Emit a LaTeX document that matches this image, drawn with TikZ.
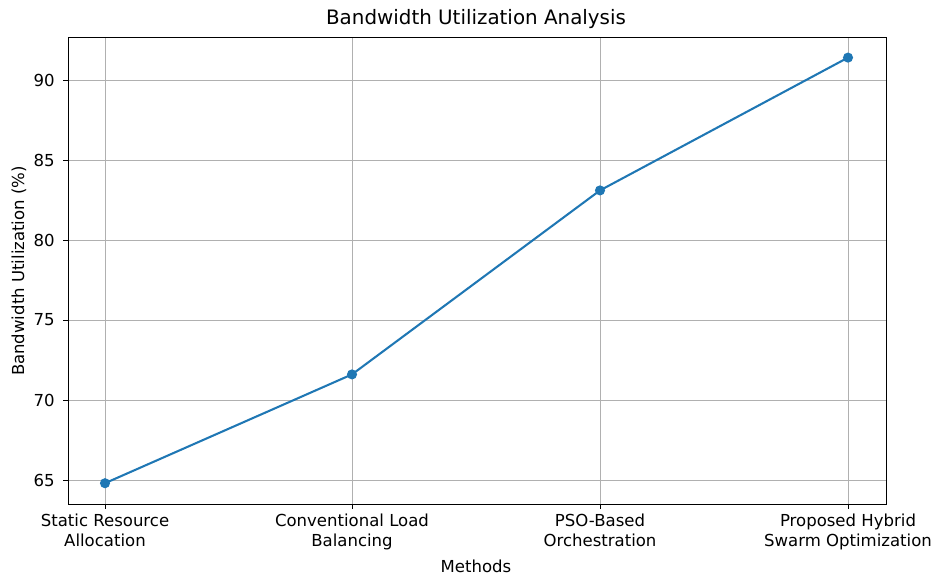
\documentclass[tikz,border=0pt]{standalone}
\usepackage{fontspec}
\setmainfont{DejaVu Sans}
\usepackage{xcolor}
\usetikzlibrary{positioning}
\definecolor{mplblue}{HTML}{1F77B4}
\definecolor{mplgrid}{HTML}{B0B0B0}
\newcommand{\ypx}[1]{480-(#1-65)*16}

\begin{document}
\begin{tikzpicture}[x=0.75pt,y=-0.75pt,
  gridline/.style={mplgrid,line width=0.7pt},
  spine/.style={black,line width=0.7pt},
  datapt/.style={circle,fill=mplblue,inner sep=0pt,minimum size=7.6pt},
  ticklab/.style={inner sep=0pt,font=\fontsize{12.4}{14.4}\selectfont,align=center}]
  \useasboundingbox (0,0) rectangle (933,576);
  % grid
  \foreach \xp in {105,352,600,848}
    \draw[gridline] (\xp,37) -- (\xp,504);
  \foreach \v in {65,70,...,90}
    \draw[gridline] (68,{\ypx{\v}}) -- (886,{\ypx{\v}});
  % data
  \node[datapt] (p1) at (105,{\ypx{64.8}}) {};
  \node[datapt] (p2) at (352,{\ypx{71.6}}) {};
  \node[datapt] (p3) at (600,{\ypx{83.1}}) {};
  \node[datapt] (p4) at (848,{\ypx{91.4}}) {};
  \draw[mplblue,line width=1.55pt,line join=round]
    (p1.center) -- (p2.center) -- (p3.center) -- (p4.center);
  % axes
  \draw[spine] (68,37) rectangle (886,504);
  \foreach \v in {65,70,...,90} {
    \draw[spine] (63,{\ypx{\v}}) -- (68,{\ypx{\v}});
    \node[ticklab,anchor=east] at (55,{\ypx{\v}}) {\v};
  }
  \foreach \xp/\lab in {105/{Static Resource\\Allocation},
      352/{Conventional Load\\Balancing},
      600/{PSO-Based\\Orchestration},
      848/{Proposed Hybrid\\Swarm Optimization}} {
    \draw[spine] (\xp,504) -- (\xp,509);
    \node[ticklab,anchor=north] at (\xp,514) {\lab};
  }
  % labels
  \node[ticklab] (xlab) at (476,566) {Methods};
  \node[ticklab,rotate=90] (ylab) at (19,271) {Bandwidth Utilization (\%)};
  \node[inner sep=0pt,font=\fontsize{14.9}{17}\selectfont] (title) at (476,19) {Bandwidth Utilization Analysis};
\end{tikzpicture}
\end{document}
